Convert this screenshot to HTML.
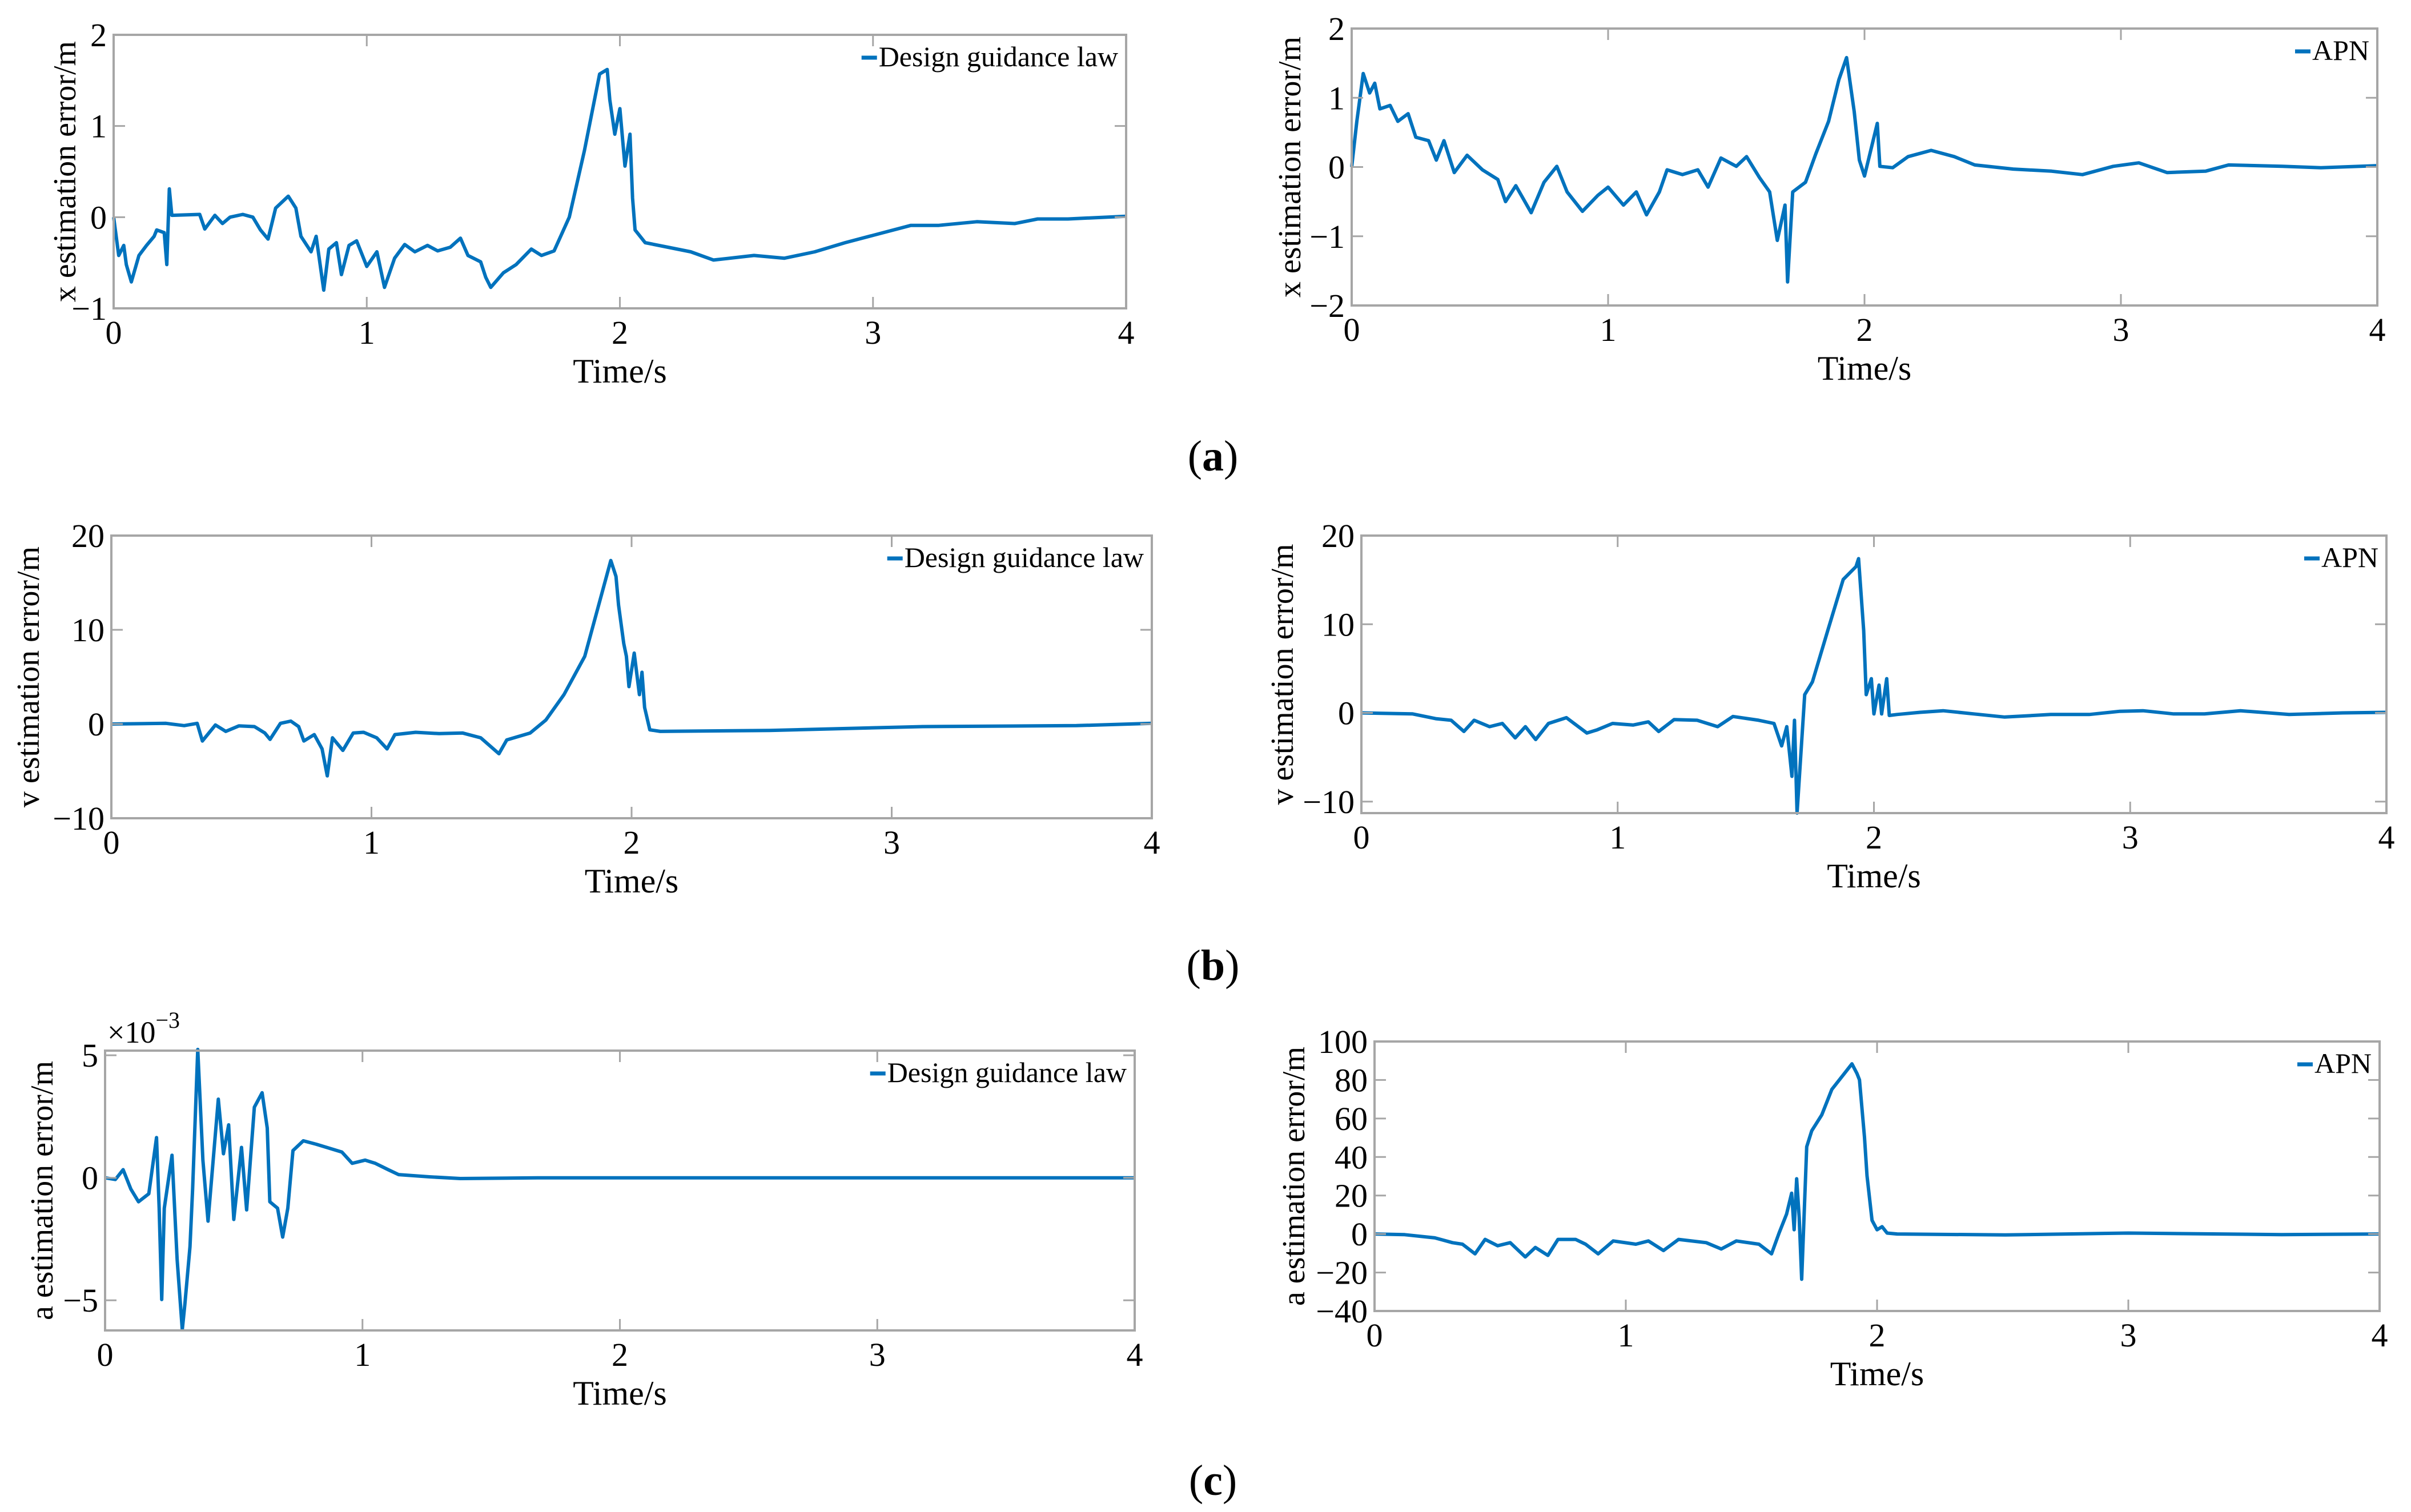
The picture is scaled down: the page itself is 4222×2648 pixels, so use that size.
<!DOCTYPE html>
<html><head><meta charset="utf-8">
<style>
html,body{margin:0;padding:0;background:#fff;}
svg{display:block;}
text{font-family:"Liberation Serif",serif;fill:#000;}
</style></head>
<body>
<svg id="fig" width="4222" height="2648" viewBox="0 0 4222 2648" xmlns="http://www.w3.org/2000/svg">
<rect x="0" y="0" width="4222" height="2648" fill="#fff"/>
<text x="2124" y="824" font-size="76" text-anchor="middle">(<tspan font-weight="bold">a</tspan>)</text>
<text x="2124" y="1716" font-size="76" text-anchor="middle">(<tspan font-weight="bold">b</tspan>)</text>
<text x="2124" y="2618" font-size="76" text-anchor="middle">(<tspan font-weight="bold">c</tspan>)</text>
</svg>
<script>
// ---- data ----
const xTicks = [0,1,2,3,4];

const axT = [0,.02,.04,.05,.07,.1,.13,.16,.17,.2,.21,.22,.23,.34,.36,.4,.43,.46,.51,.55,.58,.61,.64,.69,.72,.74,.78,.8,.83,.85,.88,.9,.93,.96,1.0,1.04,1.07,1.11,1.15,1.19,1.24,1.28,1.33,1.37,1.4,1.45,1.47,1.49,1.54,1.59,1.65,1.69,1.74,1.8,1.86,1.92,1.95,1.96,1.98,2.0,2.02,2.04,2.05,2.06,2.1,2.19,2.28,2.37,2.53,2.65,2.77,2.89,3.04,3.15,3.26,3.41,3.56,3.65,3.77,4.0];
const axV = [0,-.42,-.31,-.52,-.71,-.42,-.31,-.21,-.14,-.17,-.52,.31,.02,.03,-.13,.02,-.07,0,.03,0,-.14,-.24,.1,.23,.1,-.21,-.38,-.21,-.8,-.35,-.28,-.63,-.31,-.26,-.54,-.38,-.77,-.45,-.3,-.38,-.31,-.37,-.33,-.23,-.42,-.49,-.66,-.77,-.61,-.52,-.35,-.42,-.37,0,.73,1.57,1.62,1.29,.91,1.19,.56,.91,.21,-.14,-.28,-.33,-.38,-.47,-.42,-.45,-.38,-.28,-.17,-.09,-.09,-.05,-.07,-.02,-.02,.01];

const bxT = [0,.02,.045,.07,.09,.11,.15,.18,.22,.25,.3,.33,.36,.4,.45,.51,.57,.6,.64,.7,.75,.8,.84,.9,.96,1.0,1.06,1.11,1.15,1.2,1.23,1.29,1.35,1.39,1.44,1.5,1.54,1.59,1.63,1.66,1.69,1.7,1.72,1.77,1.81,1.86,1.9,1.93,1.96,1.98,2.0,2.05,2.06,2.11,2.17,2.26,2.35,2.43,2.58,2.73,2.85,2.97,3.07,3.18,3.33,3.42,3.63,3.78,4.0];
const bxV = [0,.66,1.35,1.07,1.21,.84,.89,.66,.77,.43,.38,.10,.38,-.08,.17,-.04,-.18,-.5,-.27,-.66,-.22,.01,-.36,-.64,-.41,-.29,-.55,-.36,-.69,-.36,-.04,-.11,-.04,-.29,.13,.01,.15,-.15,-.36,-1.06,-.55,-1.66,-.36,-.22,.19,.66,1.26,1.58,.8,.1,-.13,.63,.01,-.01,.15,.24,.15,.03,-.03,-.06,-.11,.01,.06,-.08,-.06,.03,.01,-.01,.02];

const avT = [0,.21,.28,.33,.35,.4,.44,.49,.55,.59,.61,.65,.69,.72,.74,.78,.81,.83,.85,.89,.93,.97,1.02,1.06,1.09,1.17,1.26,1.35,1.42,1.49,1.52,1.61,1.67,1.74,1.82,1.87,1.92,1.94,1.95,1.97,1.98,1.99,2.01,2.03,2.04,2.05,2.07,2.11,2.53,3.12,3.71,4.0];
const avV = [0,.07,-.17,.07,-1.8,-.1,-.78,-.2,-.27,-.95,-1.63,.07,.31,-.27,-1.8,-1.12,-2.64,-5.5,-1.46,-2.8,-.95,-.88,-1.46,-2.64,-1.12,-.88,-1.02,-.95,-1.46,-3.15,-1.69,-.95,.41,3.12,7.19,12.27,17.36,15.66,12.61,8.54,7.19,3.97,7.53,3.12,5.49,1.76,-.61,-.78,-.68,-.27,-.17,.07];

const bvT = [0,.2,.29,.35,.4,.44,.5,.55,.6,.64,.68,.73,.8,.88,.92,.98,1.06,1.12,1.16,1.22,1.31,1.39,1.45,1.55,1.61,1.64,1.66,1.68,1.69,1.7,1.73,1.76,1.82,1.88,1.93,1.94,1.96,1.97,1.99,2.0,2.02,2.03,2.05,2.06,2.09,2.18,2.27,2.39,2.51,2.69,2.84,2.96,3.05,3.17,3.29,3.43,3.62,3.83,4.0];
const bvV = [0,-.11,-.65,-.83,-2.09,-.83,-1.55,-1.19,-2.82,-1.55,-3.0,-1.19,-.54,-2.27,-1.91,-1.19,-1.37,-1.01,-2.09,-.76,-.83,-1.55,-.4,-.83,-1.19,-3.72,-1.55,-7.15,-.83,-11.3,2.06,3.5,9.3,15.05,16.5,17.4,9.28,2.06,3.86,-.11,3.14,-.11,3.86,-.29,-.18,.07,.25,-.11,-.47,-.18,-.18,.18,.25,-.11,-.11,.25,-.18,0,.07];

const acT = [0,.04,.07,.1,.13,.17,.2,.21,.22,.23,.26,.28,.3,.31,.33,.34,.36,.38,.4,.44,.46,.48,.5,.53,.55,.58,.61,.63,.64,.67,.69,.71,.73,.77,.82,.88,.92,.96,1.01,1.05,1.1,1.14,1.26,1.38,1.68,4.0];
const acV = [0,-.07,.33,-.46,-.98,-.65,1.64,-1.24,-4.97,-1.24,.92,-3.34,-6.2,-5.17,-2.81,-.46,5.24,.72,-1.77,3.21,.98,2.16,-1.7,1.24,-1.31,2.88,3.47,2.03,-.98,-1.24,-2.42,-1.24,1.11,1.51,1.37,1.18,1.05,.59,.72,.59,.33,.13,.04,-.03,0,0];

const bcT = [0,.12,.24,.31,.35,.4,.44,.49,.54,.6,.64,.69,.73,.8,.84,.89,.95,1.04,1.09,1.15,1.21,1.32,1.38,1.44,1.53,1.58,1.61,1.64,1.66,1.67,1.68,1.69,1.7,1.72,1.74,1.78,1.82,1.87,1.9,1.92,1.93,1.95,1.96,1.98,2.0,2.02,2.04,2.08,2.51,3.0,3.61,4.0];
const bcV = [0,-.33,-2,-4.5,-5.3,-10.3,-2.8,-6.1,-4.5,-11.9,-7,-11.1,-2.8,-2.8,-5.3,-10.3,-3.6,-5.3,-3.6,-8.6,-2.8,-4.5,-7.8,-3.6,-5.3,-10.3,.5,10.4,21.2,2.2,28.7,8.8,-23.5,45.3,53.6,61.9,75.1,83.4,88.4,83.4,80.1,50.2,30.3,7.1,2.2,3.8,.5,0,-.5,.5,-.3,0];

const yTicksA1 = [-1,0,1,2];
const yTicksA2 = [-2,-1,0,1,2];
const yTicksB1 = [-10,0,10,20];
const yTicksB2 = [-10,0,10,20];
const yTicksC1 = [-5,0,5];
const yTicksC2 = [-40,-20,0,20,40,60,80,100];

const NS = "http://www.w3.org/2000/svg";
const svg = document.getElementById('fig');
function mk(tag, attrs, parent){
  const e = document.createElementNS(NS, tag);
  for (const k in attrs) e.setAttribute(k, attrs[k]);
  (parent||svg).appendChild(e);
  return e;
}

function chart(name, box, ylim, yTicks, ts, vs, ylab, legend, labX, extra){
  const g = mk('g', {});
  
  
  const [x0,y0,x1,y1] = box;
  const sx = t => x0 + (t - 0)/(4 - 0)*(x1 - x0);
  const sy = v => y1 - (v - ylim[0])/(ylim[1]-ylim[0])*(y1 - y0);
  // series
  let d = '';
  ts.forEach((t,i)=>{ d += (i?'L':'M') + sx(t).toFixed(1) + ' ' + sy(vs[i]).toFixed(1); });
  const p = mk('path', {d:d, fill:'none', stroke:'#0072BD', 'stroke-width':6, 'stroke-linejoin':'round'}, g);
  
  
  // box
  const r = mk('rect', {x:x0, y:y0, width:x1-x0, height:y1-y0, fill:'none', stroke:'#a6a6a6', 'stroke-width':4}, g);
  
  
  const TL = 20;
  xTicks.forEach(t=>{
    const x = sx(t);
    mk('line',{x1:x,y1:y1,x2:x,y2:y1-TL,stroke:'#a6a6a6','stroke-width':3},g);
    mk('line',{x1:x,y1:y0,x2:x,y2:y0+TL,stroke:'#a6a6a6','stroke-width':3},g);
    const tx = mk('text',{x:x,y:y1+62,'font-size':58,'text-anchor':'middle'},g);
    
    
    tx.textContent = t;
  });
  yTicks.forEach(v=>{
    const y = sy(v);
    mk('line',{x1:x0,y1:y,x2:x0+TL,y2:y,stroke:'#a6a6a6','stroke-width':3},g);
    mk('line',{x1:x1,y1:y,x2:x1-TL,y2:y,stroke:'#a6a6a6','stroke-width':3},g);
    const ty = mk('text',{x:x0-12,y:y+20,'font-size':58,'text-anchor':'end'},g);
    
    
    ty.textContent = v < 0 ? '\u2212' + Math.abs(v) : String(v);
  });
  const xl = mk('text',{x:(x0+x1)/2,y:y1+130,'font-size':60,'text-anchor':'middle'},g);
  
  
  xl.textContent = 'Time/s';
  const yc = (y0+y1)/2;
  const yl = mk('text',{x:labX,y:yc,'font-size':56,'text-anchor':'middle',transform:'rotate(-90 '+labX+' '+yc+')','dominant-baseline':'central'},g);
  
  
  yl.textContent = ylab;
  // legend
  const lt = mk('text',{x:x1-14,y:y0+55,'font-size':50,'text-anchor':'end'},g);
  
  
  lt.textContent = legend;
  const w = lt.getComputedTextLength();
  const ll = mk('line',{x1:x1-14-w-30,y1:y0+40,x2:x1-14-w-3,y2:y0+40,stroke:'#0072BD','stroke-width':7},g);
  
  
  if (extra) extra(g, x0, y0);
}

chart('chart-x-design', [199,61,1972,540], [-1,2], yTicksA1, axT, axV, 'x estimation error/m', 'Design guidance law', 114);
chart('chart-x-apn', [2367,50,4163,535], [-2,2], yTicksA2, bxT, bxV, 'x estimation error/m', 'APN', 2259);
chart('chart-v-design', [195,938,2017,1433], [-10,20], yTicksB1, avT, avV, 'v estimation error/m', 'Design guidance law', 50);
chart('chart-v-apn', [2384,938,4179,1424], [-11.3,20], yTicksB2, bvT, bvV, 'v estimation error/m', 'APN', 2246);
chart('chart-a-design', [184,1840,1987,2330], [-6.23,5.19], yTicksC1, acT, acV, 'a estimation error/m', 'Design guidance law', 74, (g,x0,y0)=>{
  const m = mk('text',{x:x0+4,y:y0-14,'font-size':54},g);
  
  
  m.innerHTML = '\u00d710<tspan dy="-26" font-size="40">\u22123</tspan>';
});
chart('chart-a-apn', [2407,1824,4167,2296], [-40,100], yTicksC2, bcT, bcV, 'a estimation error/m', 'APN', 2266);
</script>
</body></html>
